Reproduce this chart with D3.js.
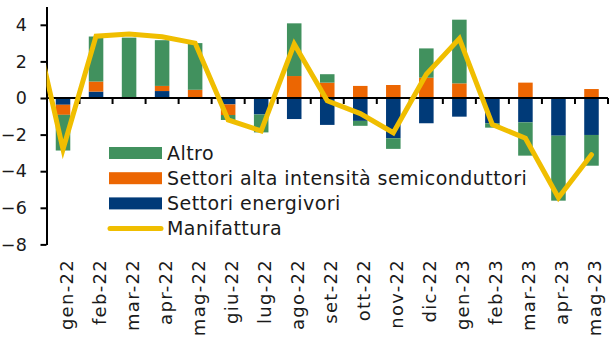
<!DOCTYPE html>
<html><head><meta charset="utf-8">
<script src="https://cdn.jsdelivr.net/npm/d3@7/dist/d3.min.js"></script>
<style>
html,body{margin:0;padding:0;background:#fff;}
svg{display:block;font-family:"DejaVu Sans",sans-serif;}
</style></head>
<body><svg id="c" width="609" height="338"></svg>
<script>
const categories = ["gen-22","feb-22","mar-22","apr-22","mag-22","giu-22","lug-22","ago-22","set-22","ott-22","nov-22","dic-22","gen-23","feb-23","mar-23","apr-23","mag-23"];
const energivori = [-0.37,0.35,0,0.38,0,-0.35,-0.9,-1.15,-1.47,-1.25,-2.2,-1.38,-1.02,-1.38,-1.33,-2.06,-2.02];
const semicond   = [-0.55,0.55,0.05,0.28,0.45,-0.58,0,1.2,0.84,0.66,0.71,1.11,0.8,0.05,0.84,0,0.49];
const altro      = [-1.95,2.46,3.25,2.5,2.55,-0.27,-0.98,2.88,0.46,-0.27,-0.58,1.6,3.48,-0.24,-1.82,-3.55,-1.68];
const manifattura = [-2.8,3.38,3.5,3.35,3.0,-1.2,-1.8,2.95,-0.15,-0.85,-1.9,1.3,3.25,-1.45,-2.2,-5.45,-3.1];
const prevCategory = "dic-21";
const prevManifattura = 5.1;
const yTicks = [-8,-6,-4,-2,0,2,4];

const seriesKeys = ["energivori","semicond","altro"];
const seriesNames = {altro:"Altro", semicond:"Settori alta intensità semiconduttori", energivori:"Settori energivori"};
const colors = {altro:"#41915E", semicond:"#EC6602", energivori:"#003A78", line:"#F0BE00"};

const svg = d3.select("#c");
const x = d3.scaleBand().domain(categories).range([46.5, 608]).paddingInner(0).paddingOuter(0);
const y = d3.scaleLinear().domain([-8, 5]).range([244.4, 6.5]);

const table = categories.map((c,i)=>({cat:c, energivori:energivori[i], semicond:semicond[i], altro:altro[i]}));
const stack = d3.stack().keys(seriesKeys).offset(d3.stackOffsetDiverging);
const stacked = stack(table);

const bw = x.bandwidth()*0.44;
svg.append("g").selectAll("g").data(stacked).join("g")
  .attr("fill", d=>colors[d.key])
  .selectAll("rect").data(d=>d).join("rect")
  .attr("x", d=>x(d.data.cat)+x.bandwidth()/2-bw/2)
  .attr("width", bw)
  .attr("y", d=>y(Math.max(d[0],d[1])))
  .attr("height", d=>Math.abs(y(d[0])-y(d[1])));

// y axis
const yAxis = svg.append("g").attr("transform","translate(46.5,0)")
  .call(d3.axisLeft(y).tickValues(yTicks).tickSize(6).tickPadding(13).tickSizeOuter(0));
yAxis.select(".domain").attr("stroke","#000").attr("stroke-width",2);
yAxis.selectAll(".tick line").attr("stroke","#000").attr("stroke-width",2);
yAxis.selectAll(".tick text").attr("font-size",17.5).attr("fill","#1a1a1a").attr("font-family","DejaVu Sans").attr("letter-spacing","0.5px");

// x axis at zero
const bounds = categories.map(c=>x(c)).concat([x(categories[categories.length-1])+x.bandwidth()]);
const xa = svg.append("g");
xa.append("line").attr("x1",x.range()[0]).attr("x2",x.range()[1]).attr("y1",y(0)).attr("y2",y(0)).attr("stroke","#000").attr("stroke-width",2);
xa.selectAll("line.t").data(bounds.slice(1)).join("line").attr("class","t")
  .attr("x1",d=>d).attr("x2",d=>d).attr("y1",y(0)).attr("y2",y(0)+6).attr("stroke","#000").attr("stroke-width",2);
svg.append("g").selectAll("text").data(categories).join("text")
  .attr("transform", d=>`translate(${x(d)+x.bandwidth()/2+10},259) rotate(-90)`)
  .attr("text-anchor","end").attr("font-size",18).attr("letter-spacing","1.3px").attr("fill","#1a1a1a")
  .text(d=>d);

// line
svg.append("clipPath").attr("id","clip").append("rect").attr("x",x.range()[0]).attr("y",0).attr("width",x.range()[1]-x.range()[0]+2).attr("height",338);
const step = x.step();
const linePts = [{xv: x(categories[0])+x.bandwidth()/2-step, v: prevManifattura}]
  .concat(categories.map((c,i)=>({xv:x(c)+x.bandwidth()/2, v:manifattura[i]})));
svg.append("path").attr("clip-path","url(#clip)")
  .attr("d", d3.line().x(d=>d.xv).y(d=>y(d.v))(linePts))
  .attr("fill","none").attr("stroke",colors.line).attr("stroke-width",5)
  .attr("stroke-linejoin","miter").attr("stroke-linecap","round");

// legend
const legendItems = ["altro","semicond","energivori","line"];
const lg = svg.append("g");
legendItems.forEach((k,i)=>{
  const cy = 153 + i*25.2;
  if(k==="line"){
    lg.append("line").attr("x1",110).attr("x2",161).attr("y1",cy).attr("y2",cy)
      .attr("stroke",colors.line).attr("stroke-width",5).attr("stroke-linecap","round");
  } else {
    lg.append("rect").attr("x",109).attr("y",cy-6).attr("width",53).attr("height",12).attr("fill",colors[k]);
  }
  lg.append("text").attr("x",167).attr("y",cy).attr("dy","0.36em")
    .attr("font-size",19).attr("letter-spacing","0.45px").attr("fill","#1a1a1a")
    .text(k==="line"?"Manifattura":seriesNames[k]);
});
</script></body></html>
